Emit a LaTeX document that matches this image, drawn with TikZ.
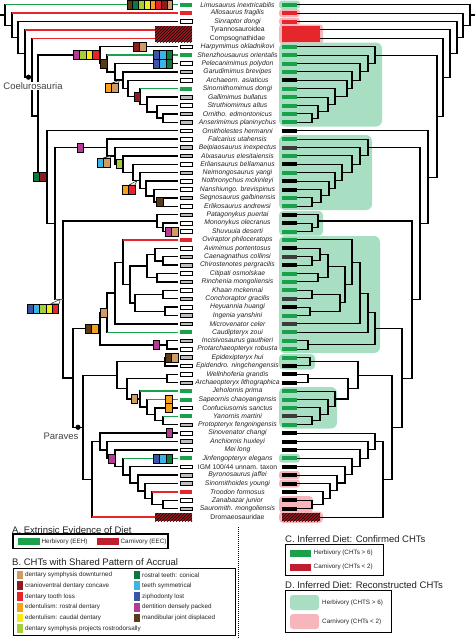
\documentclass[tikz,border=0pt]{standalone}
\usepackage{fontspec}
\setmainfont{Liberation Sans}
\usetikzlibrary{calc,patterns}
\definecolor{herbg}{HTML}{1BA14B}
\definecolor{carnred}{HTML}{E5262B}
\definecolor{lgreen}{HTML}{A8DEC2}
\definecolor{lpink}{HTML}{F7B6BB}
\definecolor{tipgrey}{HTML}{BEBEBE}
\definecolor{darkbar}{HTML}{3C3C3C}
\definecolor{hatchred}{HTML}{9E1B20}
\definecolor{legred}{HTML}{BE1E2D}
\definecolor{chtan}{HTML}{D29B62}
\definecolor{chdred}{HTML}{8E1B1F}
\definecolor{chred}{HTML}{E7242B}
\definecolor{chorange}{HTML}{F7A11B}
\definecolor{chyellow}{HTML}{F4E919}
\definecolor{chlime}{HTML}{A6CE3A}
\definecolor{chdgreen}{HTML}{0C7A3E}
\definecolor{chcyan}{HTML}{3BB5E6}
\definecolor{chblue}{HTML}{3A55A5}
\definecolor{chmag}{HTML}{B43C96}
\definecolor{chbrown}{HTML}{5A3A17}
\definecolor{txt}{HTML}{222222}

\newcommand\ry[1]{4.7+(#1-1)*8.4}
\newcommand\clade[6]{%
  \coordinate (#1x) at (#2,0);
  \coordinate (#1m) at ($(#3)!0.5!(#5)$);
  \coordinate (#1) at (#1m -| #1x);
  \draw[brline,line cap=rect] (#1 |- #3) -- (#1 |- #5);
  \draw[brline,#4] (#1 |- #3) -- (#3);
  \draw[brline,#6] (#1 |- #5) -- (#5);
}
\newcommand\drawtree{%
  \foreach \i in {1,...,62}{\coordinate (t\i) at (178,{\ry{\i}});}
  \coordinate (t4) at (155,{\ry{4}});
  \coordinate (t5) at (155,{\ry{5}});
  \coordinate (t62) at (155,{\ry{62}});
  % Ornithomimosauria
  \clade{oa}{163}{t14}{brplain}{t15}{brplain}
  \clade{ob}{157}{t13}{brplain}{oa}{brplain}
  \clade{oc}{147}{t12}{brplain}{ob}{brplain}
  \clade{od}{140}{t11}{brherb}{oc}{brplain}
  \clade{oe}{128}{t10}{brplain}{od}{brplain}
  \clade{of}{123}{t9}{brplain}{oe}{brplain}
  \clade{og}{115}{t8}{brplain}{of}{brplain}
  \clade{oh}{107}{t7}{brherb}{og}{brplain}
  \clade{oi}{100}{t6}{brplain}{oh}{brplain}
  % Therizinosauria
  \clade{za}{163}{t24}{brplain}{t25}{brplain}
  \clade{zb}{154}{t23}{brplain}{za}{brplain}
  \clade{zc}{146}{t22}{brplain}{zb}{brplain}
  \clade{zd}{140}{t21}{brplain}{zc}{brplain}
  \clade{ze}{133}{t20}{brplain}{zd}{brplain}
  \clade{zf}{123}{t19}{brplain}{ze}{brplain}
  \clade{zg}{115}{t18}{brplain}{zf}{brplain}
  \clade{zh}{107}{t17}{brplain}{zg}{brplain}
  % Alvarezsauridae
  \clade{aa}{163}{t27}{brplain}{t28}{brplain}
  \clade{ab}{157}{t26}{brplain}{aa}{brplain}
  % Oviraptorosauria
  \clade{va}{163}{t31}{brplain}{t32}{brplain}
  \clade{vb}{155}{t30}{brplain}{va}{brplain}
  \clade{vc}{157}{t33}{brplain}{t34}{brplain}
  \clade{vd}{147}{vb}{brplain}{vc}{brplain}
  \clade{ve}{163}{t35}{brplain}{t36}{brplain}
  \clade{vf}{165}{t37}{brplain}{t38}{brplain}
  \clade{vg}{135}{ve}{brplain}{vf}{brplain}
  \clade{vh}{130}{vd}{brplain}{vg}{brplain}
  \clade{vi}{123}{t29}{brcarn}{vh}{brplain}
  \clade{vj}{115}{vi}{brplain}{t39}{brplain}
  \clade{vk}{107}{vj}{brplain}{t40}{brherb}
  \clade{vl}{167}{t41}{brplain}{t42}{brplain}
  \clade{vm}{100}{vk}{brplain}{vl}{brplain}
  % Paraves
  \clade{sa}{165}{t43}{brplain}{t44}{brplain}
  \clade{sb}{167}{t45}{brplain}{t46}{brplain}
  \clade{sc}{163}{t50}{brherb}{t51}{brplain}
  \clade{sd}{155}{t49}{brplain}{sc}{brplain}
  \clade{se}{147}{t48}{brherb}{sd}{brplain}
  \clade{sf}{140}{t47}{brherb}{se}{brplain}
  \clade{sg}{127}{sb}{brplain}{sf}{brplain}
  \clade{sh}{117}{sa}{brplain}{sg}{brplain}
  \clade{ta}{163}{t60}{brplain}{t61}{brplain}
  \clade{tb}{152}{t59}{brcarn}{ta}{brplain}
  \clade{tc}{145}{t58}{brplain}{tb}{brplain}
  \clade{td}{138}{t57}{brplain}{tc}{brplain}
  \clade{te}{130}{t56}{brplain}{td}{brplain}
  \clade{tf}{123}{t55}{brherb}{te}{brplain}
  \clade{tg}{115}{t54}{brplain}{tf}{brplain}
  \clade{th}{107}{t53}{brplain}{tg}{brplain}
  \clade{ti}{100}{t52}{brplain}{th}{brplain}
  \clade{tj}{92}{ti}{brplain}{t62}{brcarn}
  \clade{pa}{83}{sh}{brplain}{tj}{brplain}
  \clade{ma}{73}{vm}{brplain}{pa}{brplain}
  \clade{mb}{63}{ab}{brplain}{ma}{brplain}
  \clade{mc}{55}{zh}{brplain}{mb}{brcarn}
  \clade{md}{47}{t16}{brplain}{mc}{brplain}
  \clade{me}{38}{oi}{brplain}{md}{brplain}
  \clade{mf}{32}{t5}{brcarn}{me}{brplain}
  \clade{mg}{25}{t4}{brcarn}{mf}{brplain}
  \clade{mh}{18}{t3}{brplain}{mg}{brplain}
  \clade{mi}{12}{t2}{brcarn}{mh}{brplain}
  \clade{mj}{5}{t1}{brherb}{mi}{brplain}
  \coordinate (rootx) at (0,0);
  \coordinate (root) at (rootx |- mj);
  \draw[brline] (root) -- (mj);
}
\newcommand\cboxes[4][6.5]{\foreach \cc [count=\ii from 0] in {#4}{\filldraw[chbox,fill=\cc] ({#2+\ii*#1},{#3-4.5}) rectangle ({#2+(\ii+1)*#1},{#3+4.5});}}
\newcommand\taxon[2]{\node[taxlab] (lab#1) at (237.5,{\ry{#1}}) {#2};}

\begin{document}
\begin{tikzpicture}[x=1pt,y=-1pt,
  tipbox/.style={draw=black,line width=0.5pt},
  chbox/.style={draw=black,line width=0.6pt},
  taxlab/.style={font=\fontsize{6.8}{7}\selectfont\itshape,text=txt,inner sep=0.5pt},
  cladelab/.style={font=\fontsize{9.5}{10}\selectfont,text=txt!85,inner sep=0.5pt},
  ttl/.style={font=\fontsize{9.5}{11}\selectfont,text=txt,inner sep=0pt,anchor=west},
  legtxt/.style={font=\fontsize{6.3}{7}\selectfont,text=txt,inner sep=0pt,anchor=west},
  hatchbox/.style={fill=hatchred,postaction={pattern=north east lines,pattern color=black}},
  nodedot/.style={circle,fill=black,inner sep=0pt,minimum size=5.2pt},
  wedge/.style={fill=white,draw=black,line width=0.4pt},
  legframe/.style={draw=black,line width=1.1pt}]
\useasboundingbox (0,0) rectangle (475,638);

% right-side backgrounds
\fill[lgreen,rounded corners=3pt] (279,0.5) rectangle (300,8.8);
\fill[lpink,rounded corners=3pt] (279,9.2) rectangle (300,17.2);
\fill[lpink,rounded corners=3pt] (279,17.6) rectangle (300,25.4);
\fill[lpink,rounded corners=3pt] (279,24.5) rectangle (323,44);
\fill[lgreen,rounded corners=6pt] (279,42.5) rectangle (382,126.5);
\fill[lgreen,rounded corners=6pt] (279,135) rectangle (372,210);
\fill[lgreen,rounded corners=4pt] (279,211) rectangle (323,235.5);
\fill[lgreen,rounded corners=6pt] (279,236) rectangle (380,353);
\fill[lgreen,rounded corners=4pt] (279,354) rectangle (315,369.5);
\fill[lgreen,rounded corners=6pt] (279,387) rectangle (337,428.5);
\fill[lgreen,rounded corners=3pt] (279,454) rectangle (300,462.5);
\fill[lpink,rounded corners=3pt] (279,471) rectangle (300,479.2);
\fill[lpink,rounded corners=3pt] (279,479.5) rectangle (300,487.6);
\fill[lpink,rounded corners=4pt] (279,496) rectangle (313,513);
\fill[lpink,rounded corners=4pt] (279,511.5) rectangle (323,523);

% right tree (mirrored)
\begin{scope}[name prefix=R-, xshift=475pt, xscale=-1,
  brline/.style={line width=1.05pt,draw=black},
  brherb/.style={}, brcarn/.style={}, brplain/.style={}]
\drawtree
\end{scope}

% left tree
\begin{scope}[name prefix=L-,
  brline/.style={line width=1.4pt,draw=black},
  brherb/.style={draw=herbg}, brcarn/.style={draw=carnred}, brplain/.style={}]
\drawtree
\end{scope}

% callout wedges
\filldraw[wedge] (112,83) -- (120,80.2) -- (118,83) -- cycle;
\filldraw[wedge] (103,158) -- (111,155.8) -- (110,158) -- cycle;
\filldraw[wedge] (129,185) -- (137,180.6) -- (135,185) -- cycle;
\filldraw[wedge] (51,303.5) -- (60,299.5) -- (59.5,303.5) -- cycle;

% character boxes
\cboxes[5.7]{127}{4.7}{chbrown,chdgreen,chlime,chyellow,chorange,chred,chdred,chtan}
\cboxes{133}{46.7}{chdred,chtan}
\cboxes{73}{55.1}{chmag,chlime,chyellow,chred}
\cboxes{153}{55.1}{chblue,chcyan,chdgreen}
\cboxes{153}{63.5}{chblue,chcyan,chdgreen}
\cboxes{100.5}{63.5}{chbrown}
\cboxes{105}{87.5}{chorange,chtan}
\cboxes{134}{96.6}{chdred}
\cboxes{33}{177.1}{chdgreen,chdred}
\cboxes{77}{147.5}{chmag}
\cboxes{97}{162.5}{chcyan,chtan}
\cboxes{116}{164.2}{chlime}
\cboxes{122}{189.5}{chorange,chred}
\cboxes{156.5}{202.1}{chbrown}
\cboxes{165}{231.5}{chmag,chtan}
\cboxes[6.3]{27}{308.5}{chblue,chcyan,chlime,chyellow,chred}
\cboxes{85}{328.8}{chbrown,chorange}
\cboxes{100.5}{312.7}{chtan}
\cboxes{153}{344.9}{chmag}
\cboxes{165}{357.5}{chbrown,chtan}
\cboxes{131}{399}{chtan}
\cboxes{165.5}{399.5}{chorange}
\cboxes{165.5}{407.9}{chorange}
\cboxes{166}{433.1}{chmag}
\cboxes{108.5}{458.3}{chmag}
\cboxes{153}{458.3}{chblue,chcyan,chdgreen}

% left tip boxes
\foreach \i in {3,6,8,10,13,16,17,20,22,23,25,27,28,30,33,35,37,42,44,45,49,52,54,56,60}
  {\filldraw[tipbox,fill=white] (180,{\ry{\i}-1.8}) rectangle (192,{\ry{\i}+1.8});}
\foreach \i in {9,12,14,15,18,19,21,24,26,31,32,34,36,38,39,41,43,46,51,53,57,58,61}
  {\filldraw[tipbox,fill=tipgrey] (180,{\ry{\i}-1.8}) rectangle (192,{\ry{\i}+1.8});}
\foreach \i in {1,7,11,40,47,48,50,55}
  {\fill[herbg] (180,{\ry{\i}-2}) rectangle (192,{\ry{\i}+2});}
\foreach \i in {2,29,59}
  {\fill[carnred] (180,{\ry{\i}-2}) rectangle (192,{\ry{\i}+2});}
\foreach \i in {4,5,62}
  {\fill[hatchbox] (155,{\ry{\i}-3.9}) rectangle (192,{\ry{\i}+3.9});}

% right bars
\foreach \i in {1,6,7,8,9,11,12,13,14,15,17,19,21,24,25,28,29,33,34,35,38,40,41,42,43,47,48,49,51,55}
  {\fill[herbg] (282,{\ry{\i}-2}) rectangle (297,{\ry{\i}+2});}
\foreach \i in {2,3}
  {\fill[carnred] (282,{\ry{\i}-2}) rectangle (297,{\ry{\i}+2});}
\foreach \i in {10,16,20,22,23,26,27,30,32,37,44,45,46,52,53,54,56,57,58,59,60,61}
  {\fill[black] (282,{\ry{\i}-2}) rectangle (297,{\ry{\i}+2});}
\foreach \i in {18,31,36,39,50}
  {\fill[darkbar] (282,{\ry{\i}-2}) rectangle (297,{\ry{\i}+2});}
\foreach \i in {4,5}
  {\fill[carnred] (282,{\ry{\i}-3.9}) rectangle (320,{\ry{\i}+3.9});}
\fill[hatchbox] (282,{\ry{62}-3.9}) rectangle (320,{\ry{62}+3.9});

% taxon labels
\taxon{1}{Limusaurus inextricabilis}
\taxon{2}{Allosaurus fragilis}
\taxon{3}{Sinraptor dongi}
\taxon{4}{\upshape Tyrannosauroidea}
\taxon{5}{\upshape Compsognathidae}
\taxon{6}{Harpymimus okladnikovi}
\taxon{7}{Shenzhousaurus orientalis}
\taxon{8}{Pelecanimimus polydon}
\taxon{9}{Garudimimus brevipes}
\taxon{10}{Archaeorn. asiaticus}
\taxon{11}{Sinornithomimus dongi}
\taxon{12}{Gallimimus bullatus}
\taxon{13}{Struthiomimus altus}
\taxon{14}{Ornitho. edmontonicus}
\taxon{15}{Anserimimus planinychus}
\taxon{16}{Ornitholestes hermanni}
\taxon{17}{Falcarius utahensis}
\taxon{18}{Beipiaosaurus inexpectus}
\taxon{19}{Alxasaurus elesitaiensis}
\taxon{20}{Erliansaurus bellamanus}
\taxon{21}{Neimongosaurus yangi}
\taxon{22}{Nothronychus mckinleyi}
\taxon{23}{Nanshiungo. brevispinus}
\taxon{24}{Segnosaurus galbinensis}
\taxon{25}{Erlikosaurus andrewsi}
\taxon{26}{Patagonykus puertai}
\taxon{27}{Mononykus olecranus}
\taxon{28}{Shuvuuia deserti}
\taxon{29}{Oviraptor philoceratops}
\taxon{30}{Avimimus portentosus}
\taxon{31}{Caenagnathus collinsi}
\taxon{32}{Chirostenotes pergracilis}
\taxon{33}{Citipati osmolskae}
\taxon{34}{Rinchenia mongoliensis}
\taxon{35}{Khaan mckennai}
\taxon{36}{Conchoraptor gracilis}
\taxon{37}{Heyuannia huangi}
\taxon{38}{Ingenia yanshini}
\taxon{39}{Microvenator celer}
\taxon{40}{Caudipteryx zoui}
\taxon{41}{Incisivosaurus gauthieri}
\taxon{42}{Protarchaeopteryx robusta}
\taxon{43}{Epidexipteryx hui}
\taxon{44}{Epidendro. ningchengensis}
\taxon{45}{Wellnhoferia grandis}
\taxon{46}{Archaeopteryx lithographica}
\taxon{47}{Jeholornis prima}
\taxon{48}{Sapeornis chaoyangensis}
\taxon{49}{Confuciusornis sanctus}
\taxon{50}{Yanornis martini}
\taxon{51}{Protopteryx fengningensis}
\taxon{52}{Sinovenator changi}
\taxon{53}{Anchiornis huxleyi}
\taxon{54}{Mei long}
\taxon{55}{Jinfengopteryx elegans}
\taxon{56}{\upshape IGM 100/44 unnam. taxon}
\taxon{57}{Byronosaurus jaffei}
\taxon{58}{Sinornithoides youngi}
\taxon{59}{Troodon formosus}
\taxon{60}{Zanabazar junior}
\taxon{61}{Sauromith. mongoliensis}
\taxon{62}{\upshape Dromaeosauridae}

% clade markers
\node[nodedot] (coeldot) at (28.5,77.2) {};
\node[cladelab,fill=white] (coel) at (33,86) {Coelurosauria};
\node[nodedot] (parvdot) at (78,427.25) {};
\node[cladelab] (parv) at (61,436) {Paraves};

% separator
\draw[line width=0.8pt,dash pattern=on 0.8pt off 1.2pt] (238,527) -- (238,638);

% legend A
\node[ttl] (ttlA) at (12,530) {A. Extrinsic Evidence of Diet};
\draw[legframe] (13,534) rectangle (168,548.5);
\fill[herbg] (18,538) rectangle (40,545);
\node[legtxt] (legA1) at (41.5,541.5) {Herbivory (EEH)};
\fill[legred] (97,538) rectangle (119,545);
\node[legtxt] (legA2) at (120.5,541.5) {Carnivory (EEC)};

% legend B
\node[ttl] (ttlB) at (12,562) {B. CHTs with Shared Pattern of Accrual};
\draw[draw=black,line width=0.8pt] (13,568) rectangle (235,635);
\foreach \c/\t/\yy [count=\k] in {chtan/dentary symphysis downturned/575,
  chdred/cranioventral dentary concave/585.7,
  chred/dentary tooth loss/596.5,
  chorange/edentulism: rostral dentary/607.3,
  chyellow/edentulism: caudal dentary/618,
  chlime/dentary symphysis projects rostrodorsally/628.7}
  {\fill[\c] (17,\yy-4.3) rectangle (22.5,\yy+4.3);
   \node[legtxt] (legBl\k) at (25,\yy) {\t};}
\foreach \c/\t/\yy [count=\k] in {chdgreen/rostral teeth: conical/575,
  chcyan/teeth symmetrical/585.7,
  chblue/ziphodonty lost/596.5,
  chmag/dentition densely packed/607.3,
  chbrown/mandibular joint displaced/618}
  {\fill[\c] (134,\yy-4.3) rectangle (139.5,\yy+4.3);
   \node[legtxt] (legBr\k) at (142,\yy) {\t};}

% legend C
\node[ttl] (ttlC) at (285,539) {C. Inferred Diet: Confirmed CHTs};
\draw[draw=black,line width=1pt] (285,544) rectangle (383,575);
\fill[herbg] (290,550) rectangle (311,556.5);
\node[legtxt] (legC1) at (313.5,553.2) {Herbivory (CHTs > 6)};
\fill[legred] (290,564) rectangle (311,570.5);
\node[legtxt] (legC2) at (313.5,567.2) {Carnivory (CHTs < 2)};

% legend D
\node[ttl] (ttlD) at (285,585) {D. Inferred Diet: Reconstructed CHTs};
\draw[draw=black,line width=1pt] (285,590) rectangle (391,632);
\fill[lgreen,rounded corners=3pt] (290,595) rectangle (319,610);
\node[legtxt] (legD1) at (322,602.5) {Herbivory (CHTS > 6)};
\fill[lpink,rounded corners=3pt] (290,614) rectangle (319,629);
\node[legtxt] (legD2) at (322,621.5) {Carnivory (CHTs < 2)};
\end{tikzpicture}
\end{document}
